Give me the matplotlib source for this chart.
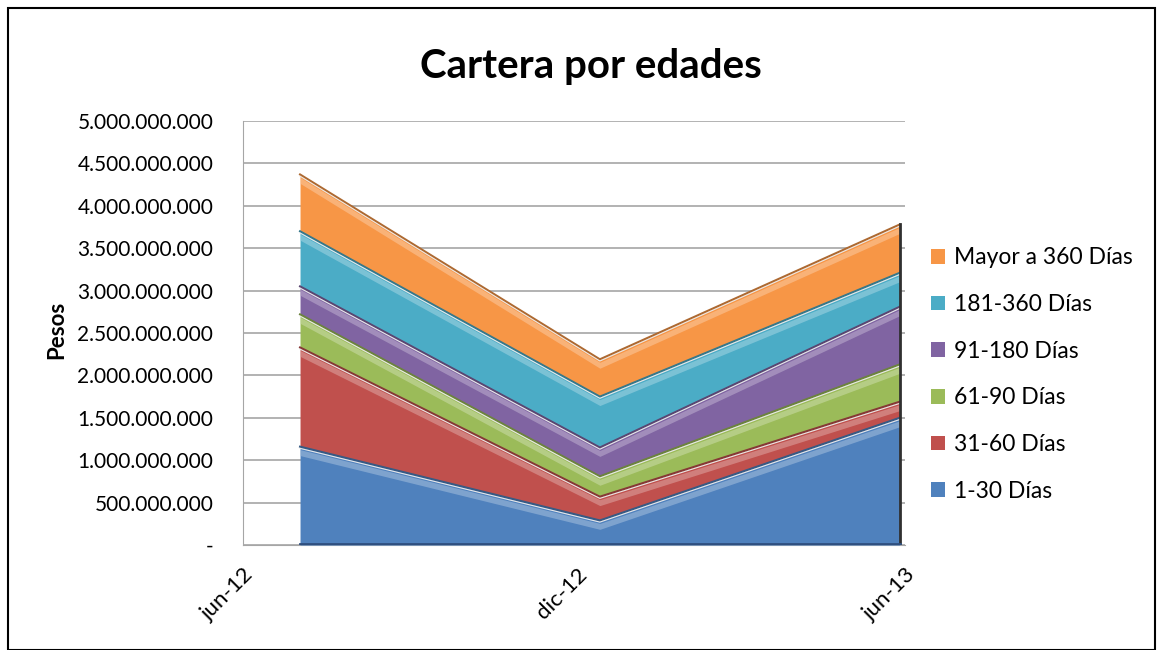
import numpy as np
import matplotlib.pyplot as plt
import matplotlib.colors as mcolors
from matplotlib.ticker import FuncFormatter
from matplotlib.patches import Rectangle

# datos
fechas = ['jun-12', 'dic-12', 'jun-13']
series = ['1-30 Días', '31-60 Días', '61-90 Días', '91-180 Días', '181-360 Días', 'Mayor a 360 Días']
d_1_30 = [1.16e9, 0.29e9, 1.50e9]
d_31_60 = [1.17e9, 0.28e9, 0.19e9]
d_61_90 = [0.39e9, 0.24e9, 0.44e9]
d_91_180 = [0.33e9, 0.34e9, 0.68e9]
d_181_360 = [0.65e9, 0.60e9, 0.40e9]
d_mayor = [0.67e9, 0.44e9, 0.57e9]
colores = ['#4F81BD', '#C0504D', '#9BBB59', '#8064A2', '#4BACC6', '#F79646']

plt.rcParams['font.family'] = ['Lato', 'DejaVu Sans']

fig = plt.figure(figsize=(11.63, 6.5), dpi=100)
ax = fig.add_axes([0.209, 0.1615, 0.569, 0.6523])

x = np.arange(len(fechas))
datos = np.array([d_1_30, d_31_60, d_61_90, d_91_180, d_181_360, d_mayor])
acum = np.vstack([np.zeros(len(fechas)), np.cumsum(datos, axis=0)])

for i in range(len(series)):
    c = colores[i]
    oscuro = tuple(v * 0.7 for v in mcolors.to_rgb(c))
    claro = tuple(v + (1 - v) * 0.45 for v in mcolors.to_rgb(c))
    ax.fill_between(x, acum[i], acum[i + 1], color=c, lw=0, zorder=3, label=series[i])
    # bisel: borde oscuro y brillo bajo el borde superior
    grosor = 0.035e9
    ax.fill_between(x, acum[i + 1] - 3 * grosor, acum[i + 1] - grosor, color=claro, lw=0, alpha=0.6, zorder=4)
    ax.plot(x, acum[i + 1], color=oscuro, lw=1.5, zorder=5)
    ax.plot(x, acum[i + 1] - 0.02e9, color='#e8e8e8', lw=0.8, zorder=5)
ax.plot([x[-1], x[-1]], [0, acum[-1][-1]], color='#303030', lw=2, zorder=6)
ax.plot(x, [0.01e9] * len(x), color='#2f4f7f', lw=2, zorder=6)

ax.set_xlim(-0.183, 2.017)
ax.set_ylim(0, 5e9)
ax.set_yticks(np.arange(0, 5.01e9, 0.5e9))
ax.yaxis.set_major_formatter(FuncFormatter(lambda v, p: '-' if v == 0 else f'{v:,.0f}'.replace(',', '.')))
ax.grid(axis='y', color='#a6a6a6', lw=1.2, zorder=0)
# etiquetas corridas por la perspectiva 3D del original
ax.set_xticks(x + np.array([-0.19, -0.075, 0.017]))
ax.set_xticklabels(fechas, rotation=45, ha='right', rotation_mode='anchor', fontsize=16)
ax.tick_params(axis='y', labelsize=15, length=0, pad=21.5)
ax.tick_params(axis='x', length=0, pad=14)
for s in ['top', 'right']:
    ax.spines[s].set_visible(False)
ax.spines['left'].set_color('#a6a6a6')
ax.spines['bottom'].set_color('#a6a6a6')
ax.set_ylabel('Pesos', fontsize=16, fontweight='bold')
ax.yaxis.set_label_coords(-0.266, 0.507)

fig.text(0.508, 0.897, 'Cartera por edades', ha='center', va='center', fontsize=29, fontweight='bold')

h, l = ax.get_legend_handles_labels()
fig.legend(h[::-1], l[::-1], loc='upper left', bbox_to_anchor=(0.783, 0.651), frameon=False,
           fontsize=16.5, handlelength=0.6, handleheight=0.6, handletextpad=0.4, labelspacing=1.12)

fig.patches.append(Rectangle((0.007, 0.0), 0.986, 0.988, transform=fig.transFigure, fill=False,
                             edgecolor='black', lw=1.5))

fig.savefig('out.png', dpi=100)
